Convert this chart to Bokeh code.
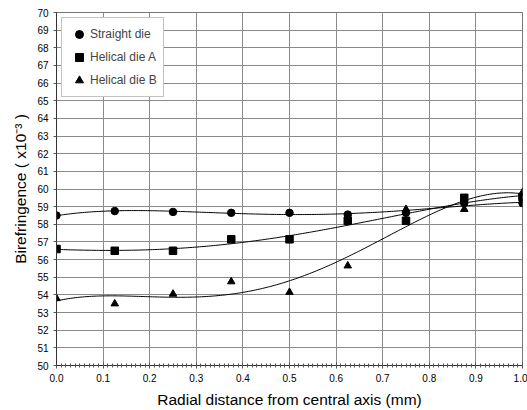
import numpy as np
from bokeh.plotting import figure
from bokeh.models import Legend, LegendItem, FixedTicker, NumeralTickFormatter, ColumnDataSource
from bokeh.embed import file_html
from bokeh.resources import INLINE

# ---- data ----
radial = [0.0, 0.125, 0.25, 0.375, 0.5, 0.625, 0.75, 0.875, 1.0]
straight_die = [58.5, 58.75, 58.7, 58.65, 58.65, 58.55, 58.65, 59.2, 59.2]
helical_a = [56.6, 56.5, 56.5, 57.15, 57.15, 58.2, 58.2, 59.5, 59.55]
helical_b = [53.8, 53.5, 54.05, 54.75, 54.15, 55.65, 58.85, 58.85, 59.8]
series_names = ["Straight die", "Helical die A", "Helical die B"]
x_ticks = [0.0, 0.1, 0.2, 0.3, 0.4, 0.5, 0.6, 0.7, 0.8, 0.9, 1.0]
y_ticks = list(range(50, 71))
fit_degree = 4

FONT = "Liberation Sans"

p = figure(width=527, height=410, x_range=(0, 1), y_range=(50, 70),
           output_backend="svg", toolbar_location=None,
           min_border_left=56, min_border_right=5, min_border_top=12,
           min_border_bottom=44,
           background_fill_color="white", border_fill_color="white")
p.outline_line_color = "#777777"
p.outline_line_width = 1

# grids
p.xgrid.ticker = FixedTicker(ticks=x_ticks)
p.ygrid.ticker = FixedTicker(ticks=y_ticks)
for g in (p.xgrid[0], p.ygrid[0]):
    g.grid_line_color = "#8a8a8a"
    g.grid_line_width = 1

# axes
p.xaxis.ticker = FixedTicker(ticks=x_ticks, minor_ticks=[i / 100 for i in range(101)])
p.xaxis.formatter = NumeralTickFormatter(format="0.0")
p.yaxis.ticker = FixedTicker(ticks=y_ticks)
p.xaxis.axis_label = "Radial distance from central axis (mm)"
p.yaxis.axis_label = "Birefringence ( x10\u207b\u00b3 )"
for ax in (p.xaxis[0], p.yaxis[0]):
    ax.axis_line_color = "#333333"
    ax.axis_line_width = 1
    ax.major_tick_line_color = "#555555"
    ax.minor_tick_line_color = "#555555"
    ax.major_tick_in = 3
    ax.major_tick_out = 3
    ax.minor_tick_in = 2
    ax.minor_tick_out = 2
    ax.major_label_text_font = FONT
    ax.major_label_text_font_size = "10px"
    ax.major_label_text_color = "black"
    ax.axis_label_text_font = FONT
    ax.axis_label_text_font_size = "15.5px"
    ax.axis_label_text_font_style = "normal"
    ax.axis_label_text_color = "black"
p.yaxis.minor_tick_line_color = None
p.yaxis.major_tick_in = 0
p.yaxis.major_label_standoff = 5
p.xaxis.major_label_standoff = 5
p.xaxis.axis_label_standoff = 6
p.yaxis.axis_label_standoff = 5

# trend lines (polynomial fits of each series)
xs = np.linspace(0, 1, 200)
for vals in (straight_die, helical_a, helical_b):
    coef = np.polyfit(radial, vals, fit_degree)
    p.line(xs, np.polyval(coef, xs), line_color="black", line_width=1)

# markers
src = ColumnDataSource(dict(x=radial, s=straight_die, a=helical_a, b=helical_b))
r1 = p.scatter("x", "s", source=src, marker="circle", size=7.5, color="black")
r2 = p.scatter("x", "a", source=src, marker="square", size=7.5, color="black")
r3 = p.scatter("x", "b", source=src, marker="triangle", size=7.5, color="black")

legend = Legend(items=[LegendItem(label=series_names[0], renderers=[r1]),
                       LegendItem(label=series_names[1], renderers=[r2]),
                       LegendItem(label=series_names[2], renderers=[r3])],
                location="top_left")
legend.margin = 5
legend.padding = 6
legend.spacing = 3
legend.label_height = 20
legend.glyph_height = 20
legend.glyph_width = 22
legend.label_standoff = 0
legend.label_text_font = FONT
legend.label_text_font_size = "12px"
legend.border_line_color = "#888888"
legend.border_line_width = 1
legend.background_fill_color = "white"
legend.background_fill_alpha = 1
p.add_layout(legend)

open("out.html", "w").write(file_html(p, INLINE))
